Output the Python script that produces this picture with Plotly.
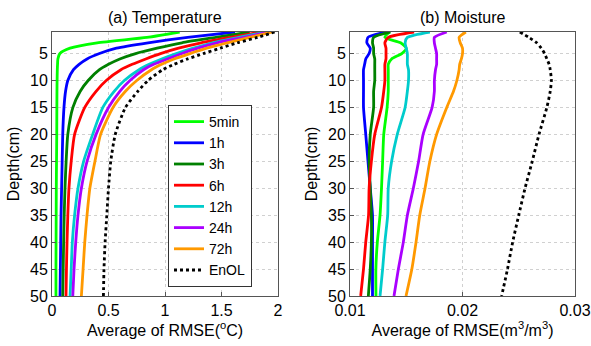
import plotly.graph_objects as go

depth = [1, 2, 3, 4, 5, 6, 7, 8, 10, 12, 15, 20, 25, 30, 35, 40, 45, 50]

series_names = ["5min", "1h", "3h", "6h", "12h", "24h", "72h", "EnOL"]
colors = ["#00ff00", "#0000ff", "#008000", "#ff0000", "#00cccc", "#aa00ff", "#ff9900", "#000000"]

temp_5min = [1.13, 0.84, 0.40, 0.16, 0.07, 0.052, 0.049, 0.047, 0.045, 0.044, 0.043, 0.042, 0.040, 0.038, 0.037, 0.036, 0.035, 0.035]
temp_1h = [1.62, 1.20, 0.85, 0.57, 0.42, 0.31, 0.24, 0.19, 0.14, 0.12, 0.106, 0.095, 0.09, 0.085, 0.08, 0.077, 0.074, 0.071]
temp_3h = [1.75, 1.45, 1.15, 0.93, 0.74, 0.60, 0.50, 0.42, 0.32, 0.25, 0.185, 0.14, 0.125, 0.115, 0.108, 0.103, 0.099, 0.095]
temp_6h = [1.85, 1.58, 1.32, 1.12, 0.96, 0.83, 0.71, 0.61, 0.48, 0.39, 0.29, 0.20, 0.17, 0.15, 0.14, 0.133, 0.128, 0.124]
temp_12h = [1.90, 1.65, 1.42, 1.25, 1.10, 0.97, 0.86, 0.77, 0.64, 0.55, 0.45, 0.36, 0.28, 0.23, 0.20, 0.18, 0.17, 0.16]
temp_24h = [1.92, 1.70, 1.46, 1.29, 1.15, 1.02, 0.90, 0.81, 0.69, 0.60, 0.50, 0.39, 0.31, 0.26, 0.23, 0.21, 0.195, 0.184]
temp_72h = [1.95, 1.75, 1.55, 1.37, 1.22, 1.08, 0.97, 0.88, 0.75, 0.65, 0.54, 0.43, 0.38, 0.335, 0.31, 0.29, 0.275, 0.26]
temp_enol = [1.97, 1.82, 1.64, 1.49, 1.34, 1.20, 1.08, 0.98, 0.85, 0.76, 0.65, 0.56, 0.52, 0.50, 0.485, 0.47, 0.46, 0.455]

moist_5min = [0.0135, 0.0131, 0.0145, 0.0150, 0.0146, 0.0137, 0.0134, 0.0134, 0.0134, 0.0134, 0.0133, 0.0130, 0.0129, 0.0128, 0.01267, 0.01243, 0.0123, 0.01231]
moist_1h = [0.0132, 0.0116, 0.0115, 0.0118, 0.0117, 0.0114, 0.0113, 0.0112, 0.0112, 0.0112, 0.0112, 0.0114, 0.0116, 0.0118, 0.0120, 0.0120, 0.0120, 0.0120]
moist_3h = [0.0136, 0.0121, 0.0120, 0.0121, 0.0121, 0.0122, 0.0122, 0.0122, 0.0122, 0.0121, 0.0121, 0.0118, 0.0117, 0.0118, 0.0119, 0.0119, 0.0118, 0.01163]
moist_6h = [0.0157, 0.0134, 0.0131, 0.0132, 0.0132, 0.0132, 0.0131, 0.0131, 0.0131, 0.0130, 0.0128, 0.0122, 0.0119, 0.0117, 0.01165, 0.0114, 0.0112, 0.01095]
moist_12h = [0.0171, 0.0151, 0.0149, 0.0150, 0.0151, 0.0151, 0.0151, 0.0152, 0.0152, 0.0151, 0.0149, 0.0142, 0.0137, 0.0134, 0.01335, 0.0131, 0.0129, 0.01267]
moist_24h = [0.0186, 0.0175, 0.0175, 0.0176, 0.0177, 0.0177, 0.0177, 0.0176, 0.0175, 0.0175, 0.0173, 0.0165, 0.0161, 0.01563, 0.0151, 0.01474, 0.0143, 0.01391]
moist_72h = [0.0203, 0.0197, 0.0198, 0.0200, 0.0200, 0.0199, 0.01975, 0.0197, 0.0195, 0.0192, 0.0186, 0.0177, 0.0171, 0.01667, 0.0162, 0.01587, 0.0155, 0.01498]
moist_enol = [0.0251, 0.0259, 0.0266, 0.0270, 0.0273, 0.0275, 0.0277, 0.0278, 0.0279, 0.0278, 0.0275, 0.0268, 0.0262, 0.02556, 0.0250, 0.02446, 0.0240, 0.02348]

temp_series = [temp_5min, temp_1h, temp_3h, temp_6h, temp_12h, temp_24h, temp_72h, temp_enol]
moist_series = [moist_5min, moist_1h, moist_3h, moist_6h, moist_12h, moist_24h, moist_72h, moist_enol]

y_ticks = [5, 10, 15, 20, 25, 30, 35, 40, 45, 50]
temp_ticks = [0, 0.5, 1, 1.5, 2]
temp_tick_text = ["0", "0.5", "1", "1.5", "2"]
moist_ticks = [0.01, 0.02, 0.03]
moist_tick_text = ["0.01", "0.02", "0.03"]

FONT = "Liberation Sans, Arial, sans-serif"
FS = 16

fig = go.Figure()
for name, col, vals in zip(series_names, colors, temp_series):
    dash = "dot" if name == "EnOL" else "solid"
    fig.add_trace(go.Scatter(x=vals, y=depth, mode="lines", name=name,
                             line=dict(color=col, width=2.8, dash=dash, shape="spline", smoothing=0.6),
                             xaxis="x", yaxis="y", showlegend=True))
for name, col, vals in zip(series_names, colors, moist_series):
    dash = "dot" if name == "EnOL" else "solid"
    fig.add_trace(go.Scatter(x=vals, y=depth, mode="lines", name=name,
                             line=dict(color=col, width=2.8, dash=dash, shape="spline", smoothing=0.6),
                             xaxis="x2", yaxis="y2", showlegend=False))

axis_common = dict(showgrid=True, gridcolor="#d0d0d0", griddash="dot", gridwidth=1,
                   showline=True, linecolor="#555555", linewidth=1, mirror=True,
                   ticks="inside", ticklen=4, tickcolor="#555555", zeroline=False,
                   automargin=False,
                   tickfont=dict(family=FONT, size=FS, color="#000"))

fig.update_layout(
    width=591, height=346,
    margin=dict(l=0, r=0, t=32, b=50),
    paper_bgcolor="white", plot_bgcolor="white",
    font=dict(family=FONT, size=FS, color="#000"),
    xaxis=dict(domain=[52/591, 278/591], range=[0, 2], tickvals=temp_ticks, ticktext=temp_tick_text,
               title=dict(text="Average of RMSE(<sup>o</sup>C)", font=dict(size=FS), standoff=2), anchor="y", **axis_common),
    yaxis=dict(domain=[0, 1], range=[50, 1], tickvals=y_ticks, anchor="x",
               title=dict(text="Depth(cm)", font=dict(size=FS), standoff=6), **axis_common),
    xaxis2=dict(domain=[350/591, 575/591], range=[0.01, 0.03], tickvals=moist_ticks, ticktext=moist_tick_text,
                title=dict(text="Average of RMSE(m<sup>3</sup>/m<sup>3</sup>)", font=dict(size=FS), standoff=2), anchor="y2", **axis_common),
    yaxis2=dict(domain=[0, 1], range=[50, 1], tickvals=y_ticks, anchor="x2",
                title=dict(text="Depth(cm)", font=dict(size=FS), standoff=6), **axis_common),
    legend=dict(x=168/591, y=1 - (105 - 32) / 264, xanchor="left", yanchor="top",
                bgcolor="white", bordercolor="#333333", borderwidth=1,
                font=dict(family=FONT, size=14), tracegroupgap=0),
    annotations=[
        dict(text="(a) Temperature", x=(52 + 278) / 2 / 591, y=1, xref="paper", yref="paper",
             xanchor="center", yanchor="bottom", yshift=4, showarrow=False, font=dict(size=FS)),
        dict(text="(b) Moisture", x=(350 + 575) / 2 / 591, y=1, xref="paper", yref="paper",
             xanchor="center", yanchor="bottom", yshift=4, showarrow=False, font=dict(size=FS)),
    ],
)

fig.write_html("out.html")
